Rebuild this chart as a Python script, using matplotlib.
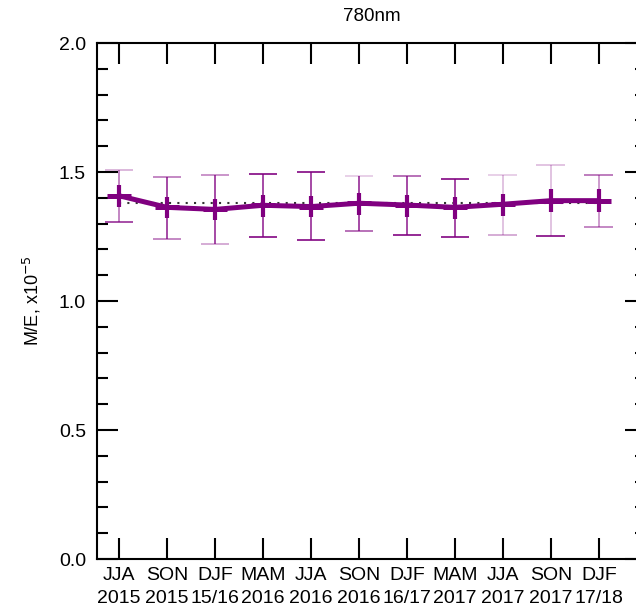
import matplotlib
matplotlib.use('Agg')
import matplotlib.pyplot as plt
from matplotlib.ticker import MultipleLocator

plt.rcParams['font.family'] = ['Liberation Sans', 'DejaVu Sans']

seasons = ['JJA\n2015', 'SON\n2015', 'DJF\n15/16', 'MAM\n2016', 'JJA\n2016', 'SON\n2016',
           'DJF\n16/17', 'MAM\n2017', 'JJA\n2017', 'SON\n2017', 'DJF\n17/18']
me_ratio = [1.408, 1.363, 1.355, 1.371, 1.366, 1.379, 1.372, 1.363, 1.375, 1.389, 1.389]
inner_hi = [1.450, 1.404, 1.394, 1.411, 1.408, 1.420, 1.412, 1.402, 1.415, 1.433, 1.433]
inner_lo = [1.366, 1.322, 1.313, 1.327, 1.324, 1.334, 1.327, 1.319, 1.331, 1.346, 1.346]
outer_hi = [1.508, 1.482, 1.490, 1.492, 1.499, 1.486, 1.486, 1.472, 1.490, 1.528, 1.490]
outer_lo = [1.306, 1.241, 1.220, 1.247, 1.235, 1.270, 1.255, 1.247, 1.255, 1.251, 1.288]
mean_ratio = 1.378

# shading of each part of the outer error bars (stem, top cap, bottom cap)
stem_alpha = [0.6, 0.9, 0.9, 0.9, 0.9, 0.9, 0.9, 0.9, 0.3, 0.3, 0.5]
top_alpha = [0.3, 0.5, 0.45, 0.9, 0.9, 0.2, 0.6, 0.9, 0.2, 0.25, 0.55]
bot_alpha = [0.75, 0.5, 0.35, 0.9, 0.9, 0.6, 0.9, 0.9, 0.35, 0.9, 0.5]

purple = '#800080'
x = list(range(len(seasons)))

fig = plt.figure(figsize=(6.36, 6.11), dpi=100)
ax = fig.add_axes([0.1525, 0.0851, 0.863, 0.8445])

ax.plot([x[0], x[-1]], [mean_ratio, mean_ratio], ls=(0, (1, 3)), color='#333333', lw=1.5, zorder=2)

for i in x:
    ax.vlines(i, outer_lo[i], outer_hi[i], color=purple, alpha=stem_alpha[i], lw=1.1, zorder=3)
    ax.hlines(outer_hi[i], i - 0.3, i + 0.3, color=purple, alpha=top_alpha[i], lw=1.3, zorder=3)
    ax.hlines(outer_lo[i], i - 0.3, i + 0.3, color=purple, alpha=bot_alpha[i], lw=1.3, zorder=3)
    ax.vlines(i, inner_lo[i], inner_hi[i], color=purple, lw=3.0, zorder=4)

ax.plot(x, me_ratio, color=purple, lw=3.6, zorder=5, solid_capstyle='butt')
ax.plot(x, me_ratio, ls='none', marker='_', ms=17, mew=3.6, color=purple, zorder=5)

ax.set_xlim(-0.46, 10.98)
ax.set_ylim(0, 2.0)
ax.set_xticks(x)
ax.set_xticklabels(seasons, fontsize=14, linespacing=1.4)
ax.yaxis.set_major_locator(MultipleLocator(0.5))
ax.yaxis.set_minor_locator(MultipleLocator(0.1))
ax.set_yticks([0.0, 0.5, 1.0, 1.5, 2.0])
ax.set_yticklabels(['0.0', '0.5', '1.0', '1.5', '2.0'], fontsize=14)
ax.tick_params(which='major', direction='in', length=15, width=1.5, top=True, right=True)
ax.tick_params(axis='y', which='major', pad=8)
ax.tick_params(axis='x', which='major', pad=6)
ax.tick_params(which='minor', direction='in', length=8, width=1.5, right=True)
ax.tick_params(axis='x', which='minor', bottom=False, top=False)
for s in ax.spines.values():
    s.set_linewidth(1.5)

ax.set_ylabel('M/E, x10$^{-5}$', fontsize=13, labelpad=11)
ax.set_title('780nm', fontsize=13.5, pad=16)

fig.savefig('out.png', dpi=100)
